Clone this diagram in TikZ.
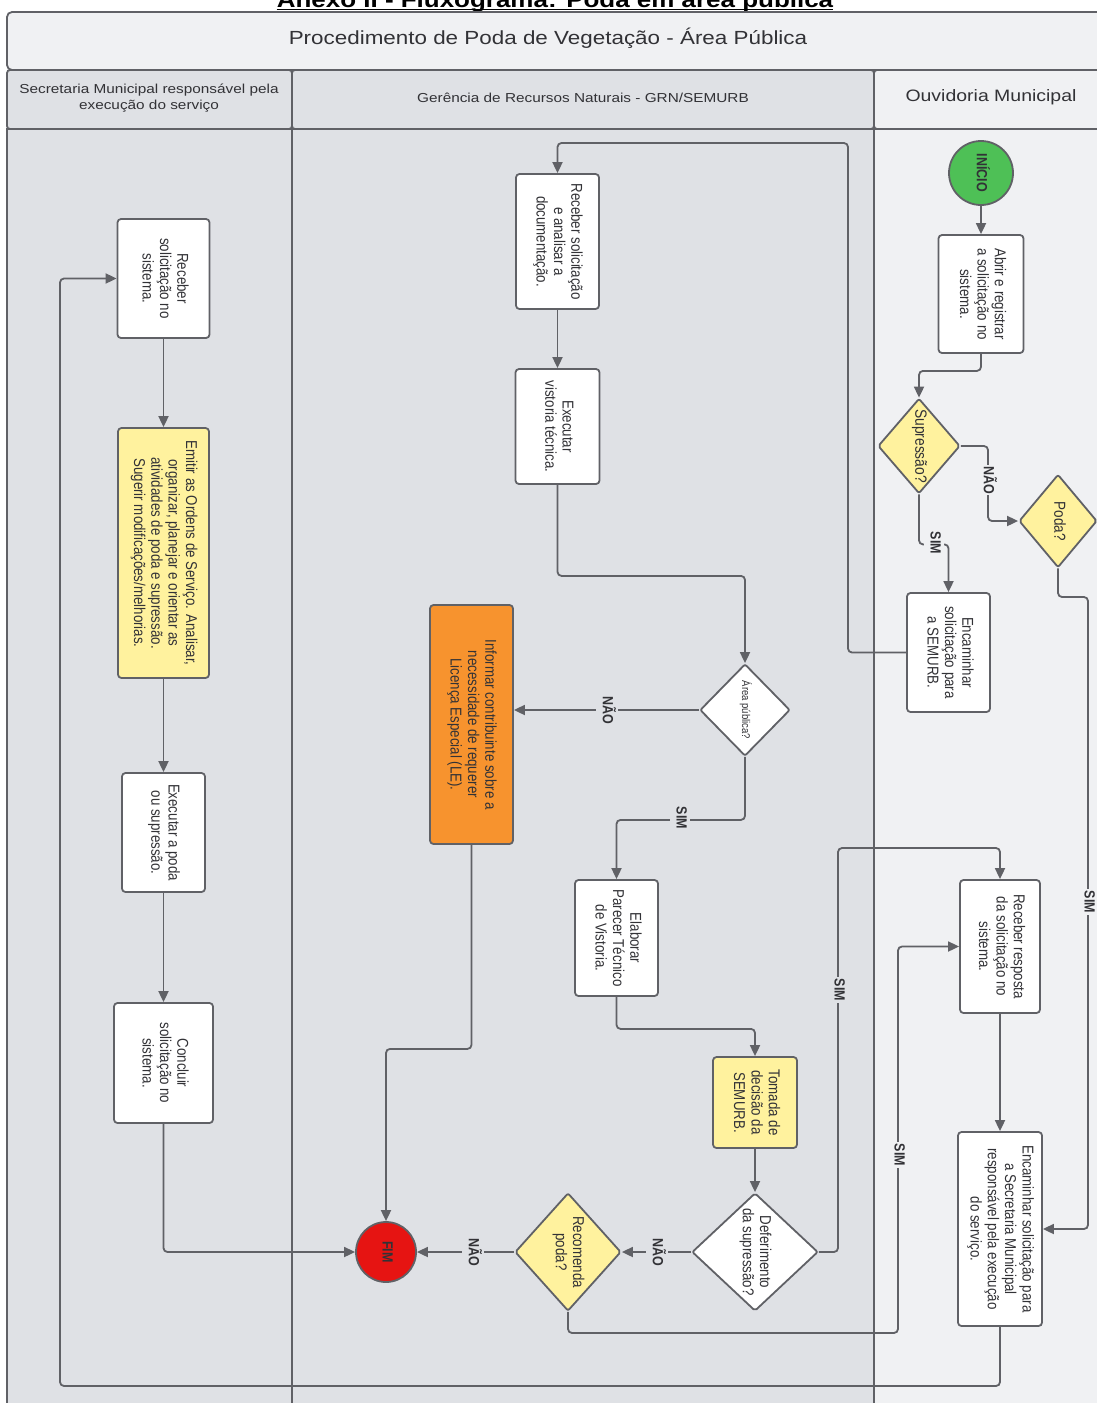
\documentclass[tikz,border=0pt]{standalone}
\usepackage{fontspec}
\setmainfont{Liberation Sans}
\usepackage{graphicx}
\usetikzlibrary{arrows.meta,shapes.geometric,calc}
\definecolor{lanedark}{RGB}{223,225,229}
\definecolor{lanelight}{RGB}{240,241,243}
\definecolor{linec}{RGB}{96,97,102}
\definecolor{txtc}{RGB}{50,50,54}
\definecolor{yel}{RGB}{255,242,158}
\definecolor{ora}{RGB}{247,147,46}
\definecolor{grn}{RGB}{78,192,86}
\definecolor{redc}{RGB}{230,20,18}
\newcommand{\rtxt}[2][\fontsize{13.3}{14.7}\selectfont]{\scalebox{1.18}[1]{\rotatebox{-90}{#1\begin{tabular}{@{}c@{}}#2\end{tabular}}}}
\newcommand{\htxt}[2][\fontsize{13}{16.5}\selectfont]{\scalebox{1.18}[1]{#1\begin{tabular}{@{}c@{}}#2\end{tabular}}}
\newcommand{\lbltxt}[1]{\rtxt[\fontsize{12.5}{14}\selectfont\bfseries]{#1}}
\begin{document}
\begin{tikzpicture}[x=1pt,y=-1pt,
  every node/.style={text=txtc},
  lanebox/.style={draw=linec,line width=1.8},
  box/.style={rectangle,draw=linec,line width=1.8,rounded corners=3.5,fill=white,inner sep=0},
  dia/.style={diamond,draw=linec,line width=1.8,rounded corners=2,fill=white,inner sep=0},
  term/.style={circle,draw=linec,line width=1.8,inner sep=0},
  conn/.style={draw=linec,line width=1.8,rounded corners=4,-{Triangle[length=11pt,width=10pt]}},
  labd/.style={fill=lanedark,inner sep=1.5},
  labl/.style={fill=lanelight,inner sep=1.5}]
\useasboundingbox (0,0) rectangle (1097,1403);
\fill[white] (0,0) rectangle (1097,1403);
% title
\node[font=\fontsize{22}{24}\selectfont\bfseries,anchor=base,inner sep=0,text=black] (T0) at (555,7) {\scalebox{1.18}[1]{Anexo II - Fluxograma: Poda em área pública}};
\draw[black,line width=1.8] ($(T0.base west)+(0,2.5)$) -- ($(T0.base east)+(0,2.5)$);
% header and lanes
\draw[lanebox,fill=lanelight,rounded corners=5] (7,12) rectangle (1115,70);
\draw[lanebox,fill=lanedark,rounded corners=3] (7,70) rectangle (292,129);
\draw[lanebox,fill=lanedark,rounded corners=3] (292,70) rectangle (874,129);
\draw[lanebox,fill=lanelight,rounded corners=3] (874,70) rectangle (1115,129);
\draw[lanebox,fill=lanedark] (7,129) rectangle (292,1425);
\draw[lanebox,fill=lanedark] (292,129) rectangle (874,1425);
\draw[lanebox,fill=lanelight] (874,129) rectangle (1115,1425);
\node[inner sep=0] (T1) at (548,40) {\htxt[\fontsize{19}{22}\selectfont]{Procedimento de Poda de Vegetação - Área Pública}};
\node[inner sep=0] (H1) at (149,98) {\htxt{Secretaria Municipal responsável pela\\execução do serviço}};
\node[inner sep=0] (H2) at (583,99) {\htxt{Gerência de Recursos Naturais - GRN/SEMURB}};
\node[inner sep=0] (H3) at (991,98) {\htxt[\fontsize{16.5}{19}\selectfont]{Ouvidoria Municipal}};
% lane 1
\node[box,minimum width=92,minimum height=119] (R1) at (163.5,278.5) {\rtxt{Receber\\solicitação no\\sistema.}};
\node[box,fill=yel,minimum width=91,minimum height=250] (E1) at (163.5,553) {\rtxt{Emitir as Ordens de Serviço. Analisar,\\organizar, planejar e orientar as\\atividades de poda e supressão.\\Sugerir modificações/melhorias.}};
\node[box,minimum width=83,minimum height=119] (X1) at (163.5,832.5) {\rtxt{Executar a poda\\ou supressão.}};
\node[box,minimum width=99,minimum height=120] (C1) at (163.5,1063) {\rtxt{Concluir\\solicitação no\\sistema.}};
% lane 2
\node[box,minimum width=83,minimum height=135] (RA) at (557.5,241.5) {\rtxt{Receber solicitação\\e analisar a\\documentação.}};
\node[box,minimum width=84,minimum height=115] (EV) at (557.5,426.5) {\rtxt{Executar\\vistoria técnica.}};
\node[box,fill=ora,minimum width=83,minimum height=239] (IC) at (471.5,724.5) {\rtxt{Informar contribuinte sobre a\\necessidade de requerer\\Licença Especial (LE).}};
\node[dia,minimum width=90,minimum height=92] (AP) at (745,710) {};
\node (APt) at (AP.center) {\rtxt[\fontsize{9.5}{11}\selectfont]{Área pública?}};
\node[box,minimum width=83,minimum height=116] (EP) at (616.5,938) {\rtxt{Elaborar\\Parecer Técnico\\de Vistoria.}};
\node[box,fill=yel,minimum width=84,minimum height=91] (TD) at (755,1102.5) {\rtxt{Tomada de\\decisão da\\SEMURB.}};
\node[dia,minimum width=126,minimum height=118] (DS) at (755,1252) {};
\node (DSt) at (DS.center) {\rtxt{Deferimento\\da supressão?}};
\node[dia,fill=yel,minimum width=106,minimum height=118] (RP) at (568,1252) {};
\node (RPt) at (RP.center) {\rtxt{Recomenda\\poda?}};
\node[term,fill=redc,minimum size=60] (FIM) at (386,1252) {\rtxt[\fontsize{12.5}{14}\selectfont\bfseries]{FIM}};
% lane 3
\node[term,fill=grn,minimum size=64] (IN) at (981,173) {\rtxt[\fontsize{12.5}{14}\selectfont\bfseries]{INÍCIO}};
\node[box,minimum width=85,minimum height=118] (AR) at (981,294) {\rtxt{Abrir e registrar\\a solicitação no\\sistema.}};
\node[dia,fill=yel,minimum width=82,minimum height=95] (SP) at (919,446) {};
\node (SPt) at (SP.center) {\rtxt[\fontsize{13.8}{15}\selectfont]{Supressão?}};
\node[dia,fill=yel,minimum width=78,minimum height=93] (PD) at (1058,521) {};
\node (PDt) at (PD.center) {\rtxt[\fontsize{13.5}{15}\selectfont]{Poda?}};
\node[box,minimum width=83,minimum height=119] (EN) at (948.5,652.5) {\rtxt{Encaminhar\\solicitação para\\a SEMURB.}};
\node[box,minimum width=80,minimum height=133] (RR) at (1000,946.5) {\rtxt{Receber resposta\\da solicitação no\\sistema.}};
\node[box,minimum width=84,minimum height=194] (ES) at (1000,1229) {\rtxt{Encaminhar solicitação para\\a Secretaria Municipal\\responsável pela execução\\do serviço.}};
% coordinates
\coordinate (k1) at (988,446);
\coordinate (k2) at (848,143);
\coordinate (k3) at (838,848);
\coordinate (k4) at (898,1333);
\coordinate (k5) at (1088,597);
\coordinate (k6) at (60,1386);
% connectors
\draw[conn] (IN.south) -- (AR.north);
\draw[conn] (AR.south) -- ++(0,17) -| (SP.north);
\draw[conn] (SP.east) -- (k1) |- (PD.west);
\draw[conn] (SP.south) -- ++(0,50) -| (EN.north);
\draw[conn] (EN.west) -| (k2) -| (RA.north);
\draw[conn] (RA.south) -- (EV.north);
\draw[conn] (EV.south) -- ++(0,91) -| (AP.north);
\draw[conn] (AP.west) -- (AP.west -| IC.east);
\draw[conn] (AP.south) -- ++(0,63) -| (EP.north);
\draw[conn] (EP.south) -- ++(0,32) -| (TD.north);
\draw[conn] (TD.south) -- (DS.north);
\draw[conn] (DS.west) -- (RP.east);
\draw[conn] (RP.west) -- (FIM.east);
\draw[conn] (IC.south) -- ++(0,204) -| (FIM.north);
\draw[conn] (C1.south) |- (FIM.west);
\draw[conn] (DS.east) -| (k3) -| (RR.north);
\draw[conn] (RP.south) |- (k4) |- (RR.west);
\draw[conn] (PD.south) |- (k5) |- (ES.east);
\draw[conn] (RR.south) -- (ES.north);
\draw[conn] (ES.south) |- (k6) |- (R1.west);
\draw[conn] (R1.south) -- (E1.north);
\draw[conn] (E1.south) -- (X1.north);
\draw[conn] (X1.south) -- (C1.north);
% labels
\node[labl] (L1) at (988,480) {\lbltxt{NÃO}};
\node[labl] (L2) at (934,543) {\lbltxt{SIM}};
\node[labd] (L3) at (607,710) {\lbltxt{NÃO}};
\node[labd] (L4) at (680,818) {\lbltxt{SIM}};
\node[labd] (L5) at (657,1252) {\lbltxt{NÃO}};
\node[labd] (L6) at (473,1252) {\lbltxt{NÃO}};
\node[labd] (L7) at (838,990) {\lbltxt{SIM}};
\node[labl] (L8) at (898,1155) {\lbltxt{SIM}};
\node[labl] (L9) at (1088,902) {\lbltxt{SIM}};
\end{tikzpicture}
\end{document}
